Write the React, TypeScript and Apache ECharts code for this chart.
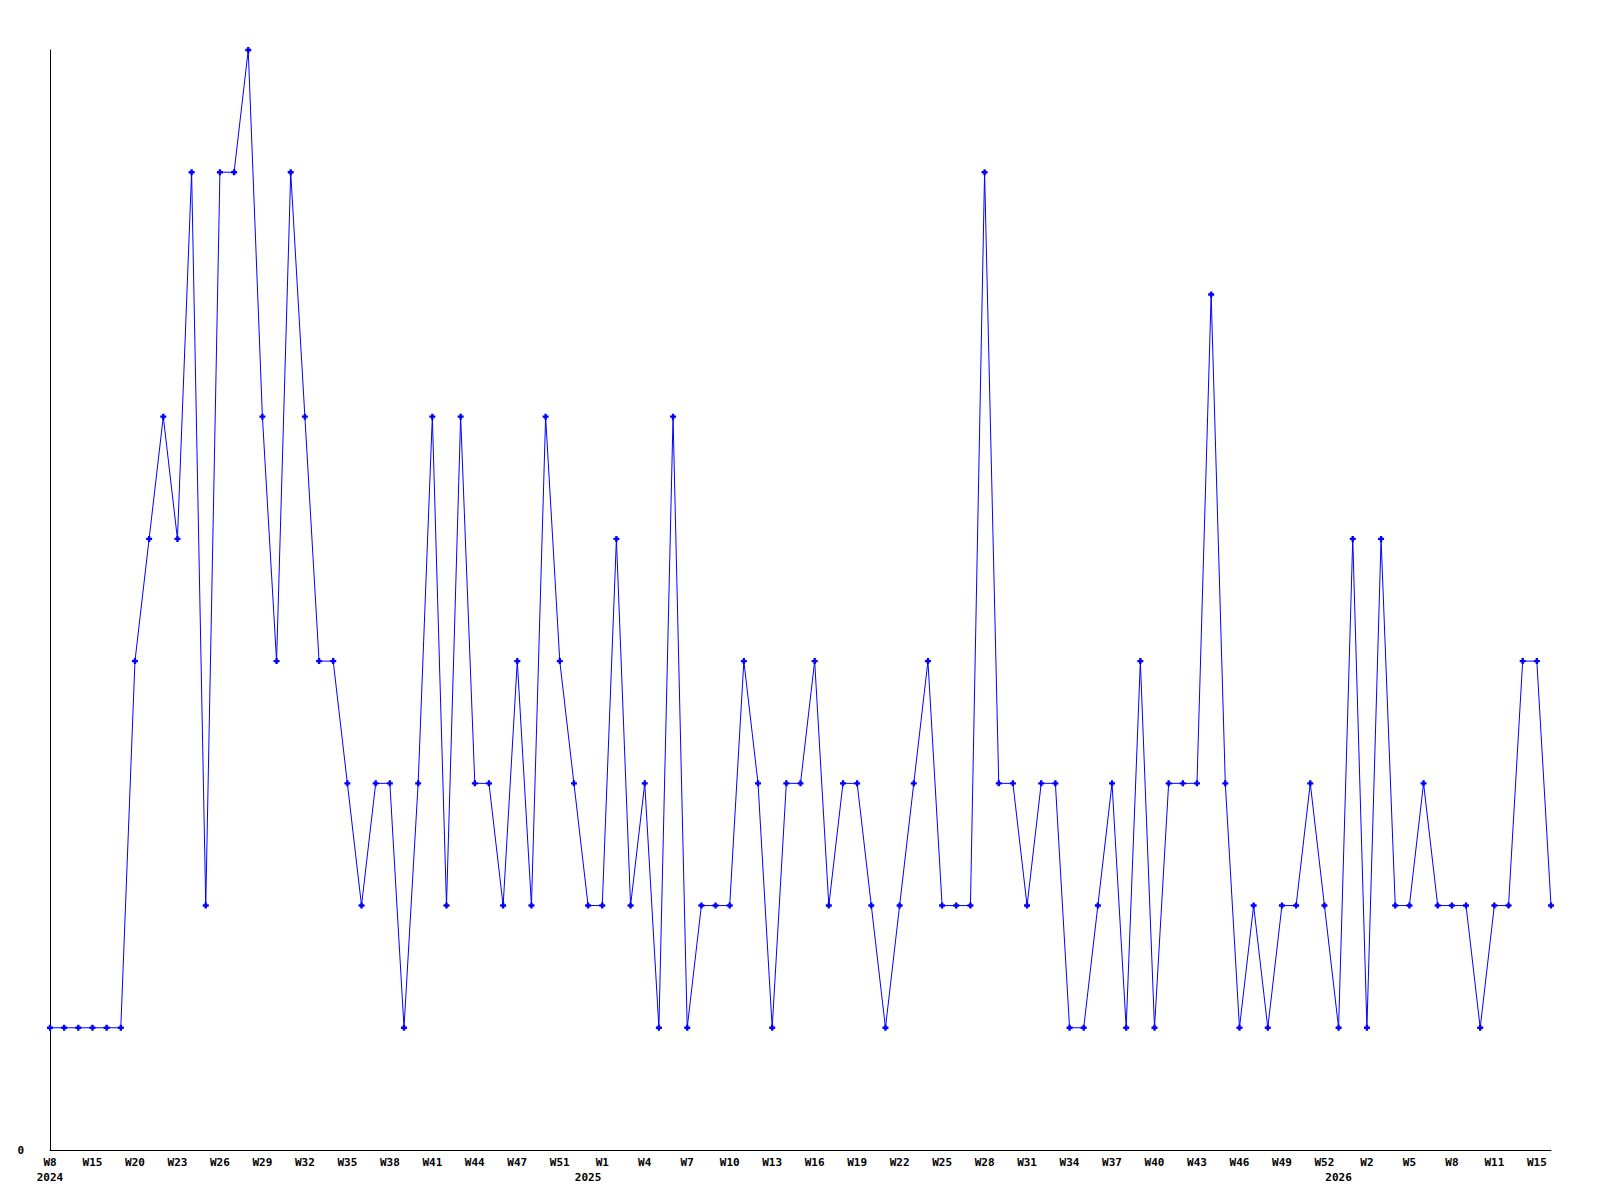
import React, { useEffect, useRef } from "react";
import * as echarts from "echarts";

// Weekly category labels (107 points)
const weeks: string[] = [
  "W8", "W11", "W13", "W15", "W17", "W18",
  "W20", "W21", "W22", "W23", "W24", "W25", "W26", "W27", "W28", "W29", "W30",
  "W31", "W32", "W33", "W34", "W35", "W36", "W37", "W38", "W39", "W40", "W41",
  "W42", "W43", "W44", "W45", "W46", "W47", "W48", "W50", "W51", "W52", "W52b",
  "W1", "W2", "W3", "W4", "W5", "W6", "W7", "W8", "W9", "W10", "W11", "W12",
  "W13", "W14", "W15", "W16", "W17", "W18", "W19", "W20", "W21", "W22", "W23",
  "W24", "W25", "W26", "W27", "W28", "W29", "W30", "W31", "W32", "W33", "W34",
  "W35", "W36", "W37", "W38", "W39", "W40", "W41", "W42", "W43", "W44", "W45",
  "W46", "W47", "W48", "W49", "W50", "W51", "W52", "W1", "W1b", "W2", "W3",
  "W4", "W5", "W6", "W7", "W8", "W9", "W10", "W11", "W12", "W13", "W15", "W16",
];

// Year marks: index in weeks where the year label sits
const yearNames: string[] = ["2024", "2025", "2026"];
const yearIndex: number[] = [0, 38, 91];

// Values
const values: number[] = [
  1, 1, 1, 1, 1, 1, 4, 5, 6, 5, 8, 2, 8, 8, 9, 6, 4, 8, 6, 4,
  4, 3, 2, 3, 3, 1, 3, 6, 2, 6, 3, 3, 2, 4, 2, 6, 4, 3, 2, 2,
  5, 2, 3, 1, 6, 1, 2, 2, 2, 4, 3, 1, 3, 3, 4, 2, 3, 3, 2, 1,
  2, 3, 4, 2, 2, 2, 8, 3, 3, 2, 3, 3, 1, 1, 2, 3, 1, 4, 1, 3,
  3, 3, 7, 3, 1, 2, 1, 2, 2, 3, 2, 1, 5, 1, 5, 2, 2, 3, 2, 2,
  2, 1, 2, 2, 4, 4, 2,
];

const yMax = 9;

export default function App() {
  const ref = useRef<HTMLDivElement>(null);
  useEffect(() => {
    if (!ref.current) return;
    const chart = echarts.init(ref.current, undefined, { renderer: "svg" });
    const yearCats = weeks.map((_, i) => {
      const k = yearIndex.indexOf(i);
      return k >= 0 ? yearNames[k] : "";
    });
    const labelFont = {
      fontFamily: "DejaVu Sans Mono",
      fontWeight: "bold" as const,
      fontSize: 11,
      color: "#000",
    };
    chart.setOption({
      animation: false,
      backgroundColor: "#fff",
      grid: { left: 50, right: 49, top: 50, bottom: 50, containLabel: false },
      xAxis: [
        {
          type: "category",
          data: weeks,
          boundaryGap: false,
          axisLine: { show: true, lineStyle: { color: "#000", width: 1 } },
          axisTick: { show: false },
          splitLine: { show: false },
          axisLabel: {
            ...labelFont,
            interval: 2,
            margin: 7,
            formatter: (v: string) => v.replace("b", ""),
          },
        },
        {
          type: "category",
          data: yearCats,
          boundaryGap: false,
          position: "bottom",
          axisLine: { show: false },
          axisTick: { show: false },
          splitLine: { show: false },
          axisLabel: {
            ...labelFont,
            interval: (i: number) => yearIndex.indexOf(i) >= 0,
            margin: 22,
          },
        },
      ],
      yAxis: {
        type: "value",
        min: 0,
        max: yMax,
        interval: yMax,
        axisLine: { show: true, lineStyle: { color: "#000", width: 1 } },
        axisTick: { show: false },
        splitLine: { show: false },
        axisLabel: {
          ...labelFont,
          margin: 26,
          formatter: (v: number) => (v === 0 ? "0" : ""),
        },
      },
      series: [
        {
          type: "line",
          data: values,
          xAxisIndex: 0,
          yAxisIndex: 0,
          lineStyle: { color: "#0000ff", width: 1 },
          itemStyle: { color: "#0000ff" },
          symbol: "path://M1.5,0H3.5V1.5H5V3.5H3.5V5H1.5V3.5H0V1.5H1.5Z",
          symbolSize: 6,
          showSymbol: true,
          showAllSymbol: true,
        },
      ],
    });
    return () => chart.dispose();
  }, []);
  return (
    <div
      ref={ref}
      style={{ position: "absolute", left: 0, top: 0, width: 1600, height: 1200 }}
    />
  );
}
